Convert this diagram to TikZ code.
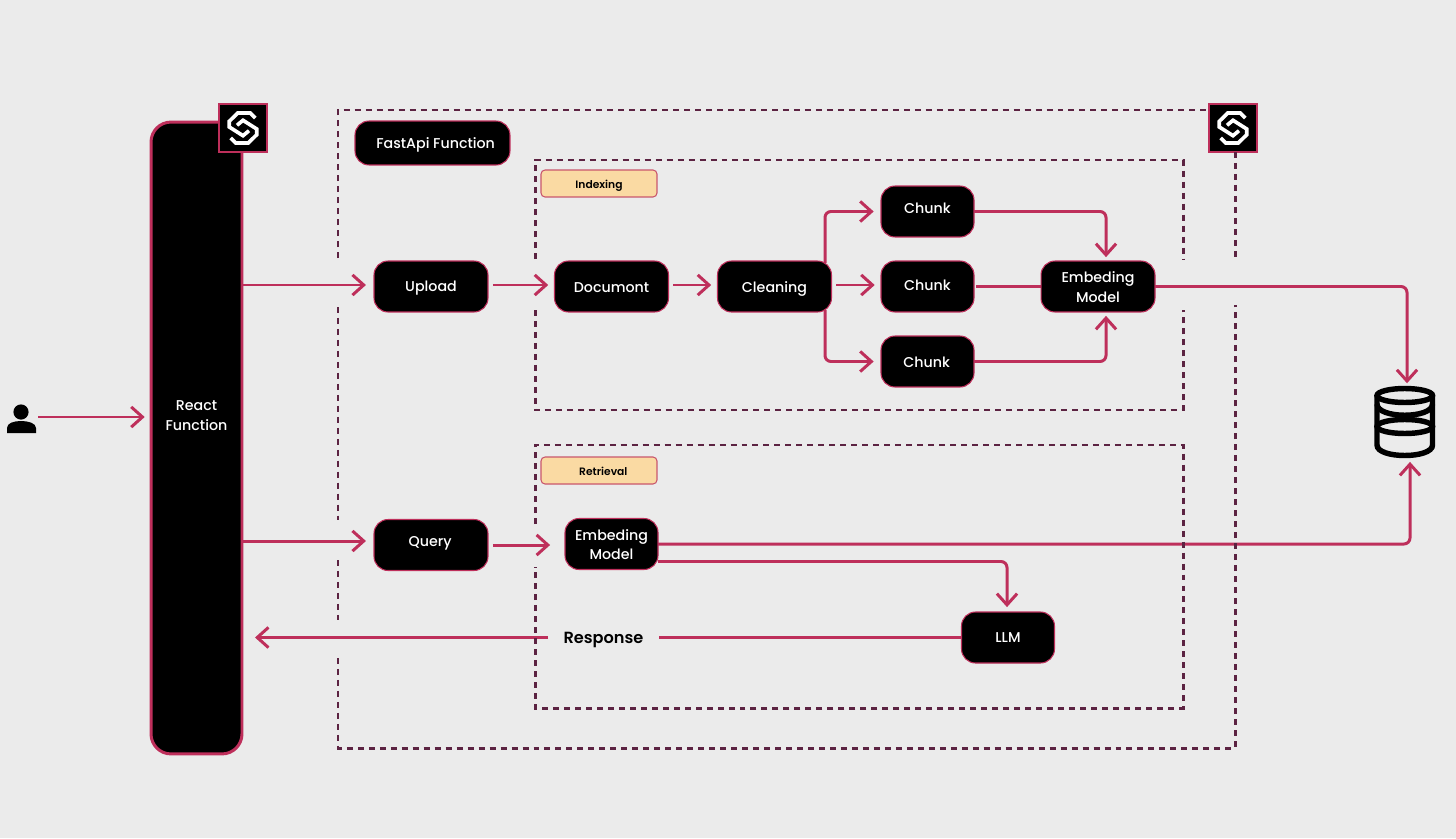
\documentclass[tikz,border=0pt]{standalone}
\usepackage{fontspec}
\setmainfont{Poppins Medium}
\newfontfamily\popsemi{Poppins SemiBold}
\usepackage{tikz}
\usetikzlibrary{calc}
\usetikzlibrary{arrows.meta}
\definecolor{pagebg}{HTML}{EBEBEB}
\definecolor{flowred}{HTML}{BE2F5B}
\definecolor{framered}{HTML}{5C2342}
\definecolor{tagfill}{HTML}{FADAA3}
\definecolor{tagline}{HTML}{C9566C}
\tikzset{box/.style={rectangle,rounded corners=0.28cm,fill=black,draw=flowred,line width=0.6pt,text=white,inner sep=0pt,outer sep=0pt,minimum width=2.28cm,minimum height=1.02cm,font=\fontsize{8.1}{11.3}\selectfont}}
\tikzset{chunkbox/.style={box,minimum width=1.86cm}}
\tikzset{tagbox/.style={rectangle,rounded corners=0.08cm,fill=tagfill,draw=tagline,line width=0.6pt,inner sep=0pt,outer sep=0pt,minimum width=2.32cm,minimum height=0.54cm,font=\popsemi\fontsize{6.1}{7}\selectfont}}
\tikzset{logobox/.style={rectangle,fill=black,draw=flowred,line width=0.6pt,inner sep=0pt,outer sep=0pt,minimum size=0.96cm}}
\tikzset{flow/.style={draw=flowred,line width=1.7pt,rounded corners=0.12cm,shorten >=3.6pt,-{Straight Barb[length=6.4pt,width=11.5pt,line width=1.7pt]}}}
\tikzset{link/.style={draw=flowred,line width=1.7pt}}
\tikzset{gap/.style={shorten <=2.8pt}}
\tikzset{frameline/.style={draw=framered,line width=1.7pt,dash pattern=on 3.4pt off 2.85pt}}
\tikzset{dbline/.style={draw=black,line width=3.1pt}}
\tikzset{logomark/.pic={
  \draw[white,line width=2.1pt] (12.3,-10) -- (7.3,-15) -- (-5.3,-15) -- (-13.7,-6.7) -- (-13.7,-1) -- (0,7.7) -- (6,2.7);
  \draw[white,line width=2.1pt] (-12.3,10) -- (-7.3,15) -- (5.3,15) -- (13.7,6.7) -- (13.7,1) -- (0,-7.7) -- (-6,-2.7);
}}
% text with its baseline #2 above the middle of the node
\newcommand{\moved}[3]{\raisebox{#2}[0pt][0pt]{\hspace*{#1}#3}}
\newcommand{\twolines}[2]{\begin{tabular}[b]{@{}c@{}}#1\\#2\end{tabular}}

\begin{document}
\begin{tikzpicture}[x=0.02cm,y=-0.02cm]
\useasboundingbox (0,0) rectangle (1456,838);
\fill[pagebg] (0,0) rectangle (1456,838);

\node[minimum width=0.66cm,minimum height=0.66cm,inner sep=0pt] (user) at (21.5,417) {};
\fill[black] (21,412) circle (7.6);
\fill[black] (7,433) -- (7,428) .. controls (7,423) and (14,421) .. (21,421) .. controls (28,421) and (36,423) .. (36,428) -- (36,433) -- cycle;

\node[box,minimum width=1.82cm,minimum height=12.64cm,rounded corners=0.4cm,line width=1.7pt] (react) at (196.5,438) {\moved{0pt}{4.2pt}{\twolines{React}{Function}}};
\node[logobox] (logoL) at (243,128) {};
\pic at (logoL) {logomark};
\node[logobox] (logoR) at (1233,128) {};
\pic at (logoR) {logomark};

\node[box,minimum width=3.1cm,minimum height=0.88cm] (fastapi) at (432.5,143) {\moved{3.6pt}{-3pt}{FastApi Function}};
\node[tagbox] (indexing) at (599,183.5) {\moved{0pt}{-2.7pt}{Indexing}};
\node[tagbox] (retrieval) at (599,470.5) {\moved{4.9pt}{-2.6pt}{Retrieval}};

\node[box] (upload) at (431,286.5) {\moved{0pt}{-2.9pt}{Upload}};
\node[box] (doc) at (611.5,286.5) {\moved{0pt}{-3.3pt}{Documont}};
\node[box] (clean) at (774.5,286.5) {\moved{0pt}{-3.3pt}{Cleaning}};
\node[chunkbox] (chunkA) at (927.5,211.5) {\moved{0pt}{-1pt}{Chunk}};
\node[chunkbox] (chunkB) at (927.5,286.5) {\moved{0pt}{-2pt}{Chunk}};
\node[chunkbox] (chunkC) at (927.5,361.5) {\moved{-1pt}{-3.3pt}{Chunk}};
\node[box] (embedA) at (1098,286.5) {\moved{0pt}{-9.2pt}{\twolines{Embeding}{Model}}};

\node[box] (query) at (431,545) {\moved{-1pt}{-0.6pt}{Query}};
\node[chunkbox] (embedB) at (611.5,544) {\moved{0pt}{-9.1pt}{\twolines{Embeding}{Model}}};
\node[chunkbox] (llm) at (1008,637.5) {\moved{0pt}{-3pt}{LLM}};
\node[inner sep=0pt,outer sep=0pt,minimum width=2.22cm,minimum height=0.5cm,font=\popsemi\fontsize{9.2}{11}\selectfont] (response) at (603.5,637.5) {\moved{0pt}{-3.2pt}{Response}};

\node[minimum width=1.22cm,minimum height=1.44cm,inner sep=0pt,outer sep=0pt] (db) at (1405,421) {};
\draw[dbline] (1377,396) -- (1377,445) .. controls (1377,459) and (1432.5,459) .. (1432.5,445) -- (1432.5,396);
\draw[dbline] (1404.75,395.5) ellipse [x radius=27.75,y radius=7];
\draw[dbline] (1377,404) .. controls (1377,419) and (1432.5,419) .. (1432.5,404);
\draw[dbline] (1404.75,426.5) ellipse [x radius=27.75,y radius=7];

\draw[flow] (user.east) -- (user.east -| react.west);
\draw[flow,shorten >=4.6pt] ([yshift=0.03cm]react.east |- upload.west) -- ([yshift=0.03cm]upload.west);
\draw[flow,shorten >=4.6pt] ([yshift=0.08cm]react.east |- query.west) -- ([yshift=0.08cm]query.west);
\draw[flow,gap] ([yshift=0.03cm]upload.east) -- ([yshift=0.03cm]doc.west);
\draw[flow,gap] ([yshift=0.03cm]doc.east) -- ([yshift=0.03cm]clean.west);
\draw[flow,gap] ([yshift=0.03cm]clean.east) -- ([yshift=0.03cm]chunkB.west);
\draw[flow,shorten >=4.2pt] ($(clean.north)+(50.5,2)$) |- (chunkA.west);
\draw[flow,shorten >=4.2pt] ($(clean.south)+(50.5,-2)$) |- (chunkC.west);
\draw[flow,shorten >=2.2pt] (chunkA.east) -| ([xshift=0.16cm]embedA.north);
\draw[link] ([xshift=0.04cm]chunkB.east) -- (embedA.west);
\draw[flow,shorten >=2.2pt] (chunkC.east) -| ([xshift=0.16cm]embedA.south);
\draw[flow,shorten >=1pt] (embedA.east) -| ([xshift=0.04cm]db.north);
\draw[flow,gap,shorten >=8.5pt] (query.east) -- (query.east -| embedB.west);
\draw[flow,shorten >=2.8pt] (embedB.east) -| ([xshift=0.1cm]db.south);
\draw[flow,shorten >=2.8pt] ([yshift=-0.35cm]embedB.east) -| ([xshift=-0.02cm]llm.north);
\draw[link] (llm.west) -- (response.east);
\draw[flow,shorten >=7.4pt] (response.west) -- (response.west -| react.east);

% outer frame
\draw[frameline] (338,258) -- (338,110) -- (1208,110);
\draw[frameline] (338,307) -- (338,520);
\draw[frameline] (338,560) -- (338,620);
\draw[frameline] (338,658) -- (338,748) -- (1235,748) -- (1235,305);
\draw[frameline] (1235,152) -- (1235,260);
% indexing frame
\draw[frameline] (535,259) -- (535,160) -- (1183,160) -- (1183,260);
\draw[frameline] (535,310) -- (535,410) -- (1183,410) -- (1183,310);
% retrieval frame
\draw[frameline] (535,524) -- (535,445) -- (1183,445) -- (1183,708) -- (535,708) -- (535,567);

\end{tikzpicture}
\end{document}
